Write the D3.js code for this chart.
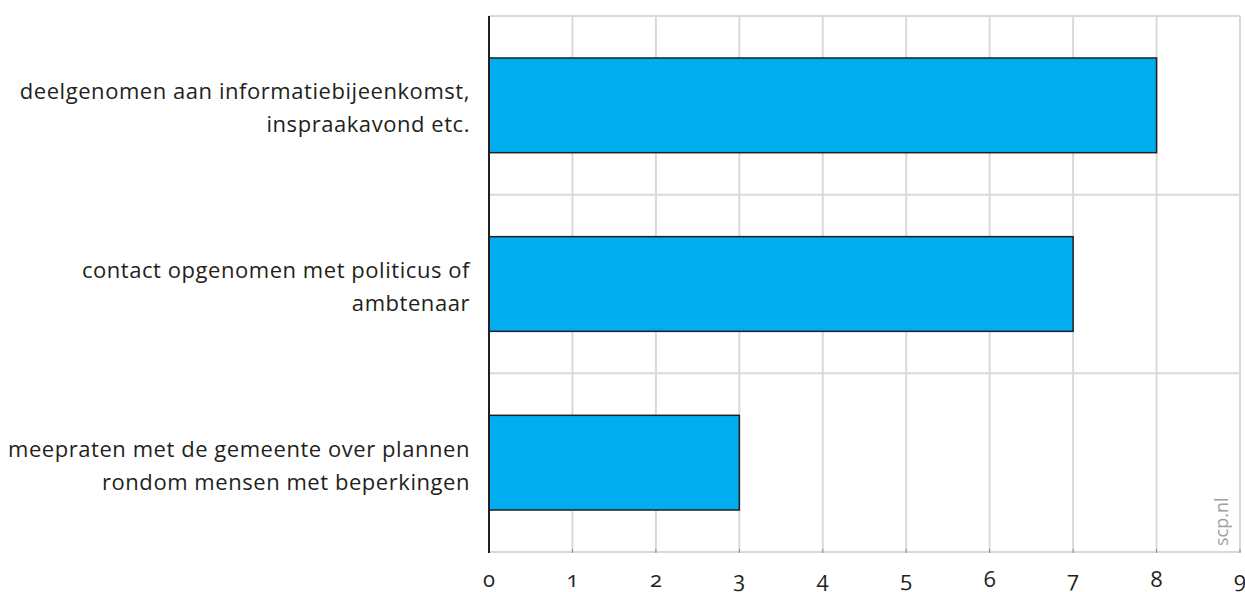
<!DOCTYPE html>
<html>
<head>
<meta charset="utf-8">
<script src="https://cdn.jsdelivr.net/npm/d3@7"></script>
<style>
  html, body { margin: 0; padding: 0; background: #fff; }
  svg { display: block; font-family: "Open Sans", "Noto Sans", sans-serif; }
  .cat { font-size: 22px; letter-spacing: 0.55px; fill: #231f20; }
  .tick-label { font-size: 22px; fill: #231f20; font-variant-numeric: oldstyle-nums; font-feature-settings: "onum" 1; }
</style>
</head>
<body>
<div id="chart"></div>
<script>
// categories (top to bottom), each split into display lines
const categories = [
    ["deelgenomen aan informatiebijeenkomst,", "inspraakavond etc."],
    ["contact opgenomen met politicus of", "ambtenaar"],
    ["meepraten met de gemeente over plannen", "rondom mensen met beperkingen"]
];
const values = [8, 7, 3];
const xTicks = [0, 1, 2, 3, 4, 5, 6, 7, 8, 9];

const width = 1245, height = 592;
const margin = { top: 16, right: 5, bottom: 40, left: 489 };
const innerW = width - margin.left - margin.right;
const innerH = height - margin.top - margin.bottom;

const svg = d3.select("#chart").append("svg")
    .attr("width", width)
    .attr("height", height);

const g = svg.append("g").attr("transform", `translate(${margin.left},${margin.top})`);

const x = d3.scaleLinear().domain([0, 9]).range([0, innerW]);
const y = d3.scaleBand().domain(d3.range(values.length)).range([0, innerH]).paddingInner(0.47).paddingOuter(0.235);

// vertical gridlines
g.selectAll("line.vgrid")
    .data(xTicks.slice(1))
    .enter().append("line")
    .attr("class", "vgrid")
    .attr("x1", d => x(d)).attr("x2", d => x(d))
    .attr("y1", 0).attr("y2", innerH)
    .attr("stroke", "#d9d9d9").attr("stroke-width", 2);

// horizontal band separators
const bandEdges = d3.range(values.length + 1).map(i => i * innerH / values.length);
g.selectAll("line.hgrid")
    .data(bandEdges)
    .enter().append("line")
    .attr("class", "hgrid")
    .attr("x1", 0).attr("x2", innerW)
    .attr("y1", d => d).attr("y2", d => d)
    .attr("stroke", "#d9d9d9").attr("stroke-width", 2);

// small tick marks on the bottom axis
g.selectAll("line.tick")
    .data(xTicks)
    .enter().append("line")
    .attr("x1", d => x(d)).attr("x2", d => x(d))
    .attr("y1", innerH - 3).attr("y2", innerH + 1)
    .attr("stroke", "#888").attr("stroke-width", 1);

// bars
g.selectAll("rect.bar")
    .data(values)
    .enter().append("rect")
    .attr("class", "bar")
    .attr("x", x(0))
    .attr("y", (d, i) => y(i))
    .attr("width", d => x(d) - x(0))
    .attr("height", y.bandwidth())
    .attr("fill", "#00aeef")
    .attr("stroke", "#231f20")
    .attr("stroke-width", 1.5);

// y axis line
g.append("line")
    .attr("x1", 0).attr("x2", 0)
    .attr("y1", 0).attr("y2", innerH + 1)
    .attr("stroke", "#231f20").attr("stroke-width", 2);

// tick labels
g.selectAll("text.tick-label")
    .data(xTicks)
    .enter().append("text")
    .attr("class", "tick-label")
    .attr("x", d => x(d))
    .attr("y", innerH + 35)
    .attr("text-anchor", "middle")
    .text(d => d);

// category labels
const bandCenter = i => y(i) + y.bandwidth() / 2;
categories.forEach((lines, i) => {
    const t = g.append("text")
        .attr("class", "cat")
        .attr("text-anchor", "end")
        .attr("x", -19)
        .attr("y", bandCenter(i) - 6);
    lines.forEach((line, j) => {
        t.append("tspan")
            .attr("x", -19)
            .attr("dy", j === 0 ? 0 : 33)
            .text(line);
    });
});

// source mark
svg.append("text")
    .attr("transform", `translate(${margin.left + innerW - 12},${margin.top + innerH - 6}) rotate(-90)`)
    .attr("font-size", 18)
    .attr("fill", "#a0a0a0")
    .text("scp.nl");
</script>
</body>
</html>
